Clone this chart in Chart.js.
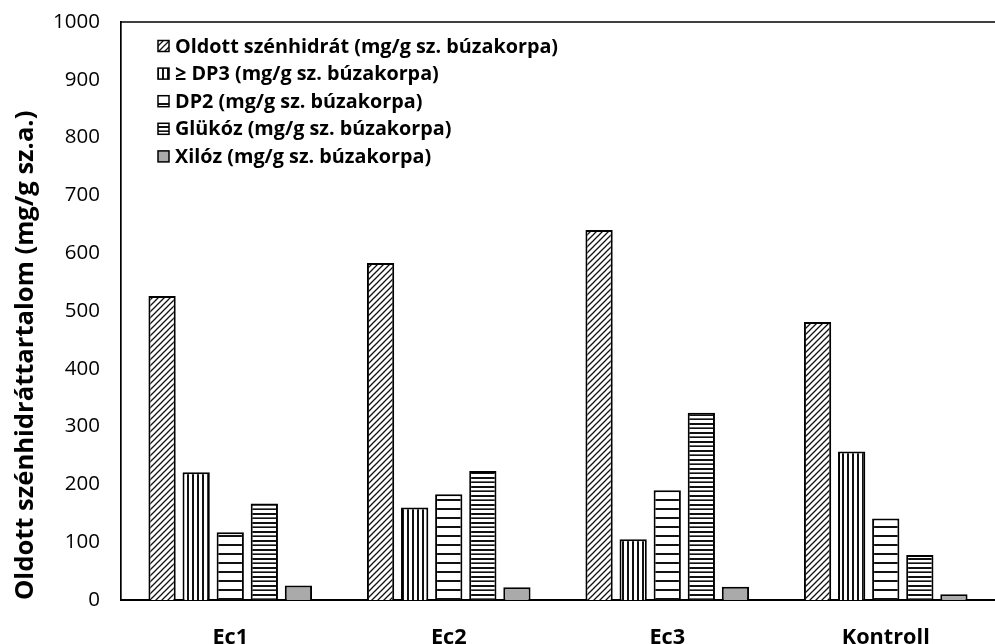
<!DOCTYPE html>
<html>
<head>
<meta charset="utf-8">
<script src="https://cdn.jsdelivr.net/npm/chart.js@4/dist/chart.umd.min.js"></script>
<style>
  html, body { margin: 0; padding: 0; background: #fff; }
  #wrap { width: 995px; height: 644px; }
</style>
</head>
<body>
<div id="wrap"><canvas id="chart"></canvas></div>
<script>
const categories = ['Ec1', 'Ec2', 'Ec3', 'Kontroll'];
const seriesNames = [
  'Oldott szénhidrát (mg/g sz. búzakorpa)',
  '≥ DP3 (mg/g sz. búzakorpa)',
  'DP2 (mg/g sz. búzakorpa)',
  'Glükóz (mg/g sz. búzakorpa)',
  'Xilóz (mg/g sz. búzakorpa)'
];
const oldott = [526, 583, 640, 481];
const dp3 = [221, 160, 105, 257];
const dp2 = [117, 183, 190, 141];
const glukoz = [167, 223, 324, 78];
const xiloz = [25, 22, 23, 10];
const yTicks = [0, 100, 200, 300, 400, 500, 600, 700, 800, 900, 1000];
const yTitle = 'Oldott szénhidráttartalom (mg/g sz.a.)';

const FONT = '"Open Sans", "DejaVu Sans", sans-serif';

// size a font so a text gets about the width it has in the picture
function fitSize(text, weight, width) {
  const m = document.createElement('canvas').getContext('2d');
  m.font = weight + ' 100px ' + FONT;
  return Math.round(1000 * width / m.measureText(text).width) / 10;
}
const legendSize = fitSize(seriesNames[0], 'bold', 383);
const tickSize = fitSize('1000', 'normal', 47);
const xLabelSize = fitSize('Kontroll', 'bold', 88);
const titleSize = fitSize(yTitle, 'bold', 490);

// hatch fills like the Excel pattern fills
function makePattern(w, h, draw) {
  const c = document.createElement('canvas');
  c.width = w;
  c.height = h;
  const g = c.getContext('2d');
  g.fillStyle = '#fff';
  g.fillRect(0, 0, w, h);
  draw(g);
  return g.createPattern(c, 'repeat');
}

const diagFill = makePattern(6, 6, (g) => {
  g.strokeStyle = '#111';
  g.lineWidth = 1.3;
  g.beginPath();
  g.moveTo(-1, 7); g.lineTo(7, -1);
  g.moveTo(-4, 4); g.lineTo(4, -4);
  g.moveTo(2, 10); g.lineTo(10, 2);
  g.stroke();
});
const vertFill = makePattern(5, 4, (g) => {
  g.fillStyle = '#111';
  g.fillRect(2, 0, 2, 4);
});
const wideHorizFill = makePattern(4, 9, (g) => {
  g.fillStyle = '#111';
  g.fillRect(0, 4, 4, 2);
});
const narrowHorizFill = makePattern(4, 9, (g) => {
  g.fillStyle = '#111';
  g.fillRect(0, 0, 4, 2);
  g.fillRect(0, 5, 4, 1);
  g.fillStyle = '#666';
  g.fillRect(0, 4, 4, 1);
});
const fills = [diagFill, vertFill, wideHorizFill, narrowHorizFill, '#aaaaaa'];
const values = [oldott, dp3, dp2, glukoz, xiloz];

const datasets = seriesNames.map((name, i) => ({
  label: name,
  data: values[i],
  backgroundColor: fills[i],
  borderColor: '#000',
  borderWidth: 2,
  borderSkipped: 'bottom',
  categoryPercentage: 0.78,
  barPercentage: 0.8
}));

// legend inside the plot, one item per row, plus the top frame line
const insideLegend = {
  id: 'insideLegend',
  afterDraw(chart) {
    const ctx = chart.ctx;
    const area = chart.chartArea;
    ctx.save();
    ctx.strokeStyle = '#000';
    ctx.lineWidth = 1.5;
    ctx.beginPath();
    ctx.moveTo(area.left, area.top);
    ctx.lineTo(area.right, area.top);
    ctx.stroke();

    const x = area.left + 37;
    ctx.font = 'bold ' + legendSize + 'px ' + FONT;
    ctx.textBaseline = 'middle';
    chart.data.datasets.forEach((ds, i) => {
      const y = 46 + i * 27.6;
      ctx.fillStyle = ds.backgroundColor;
      ctx.fillRect(x, y - 5.5, 11, 11);
      ctx.lineWidth = 1.5;
      ctx.strokeStyle = '#000';
      ctx.strokeRect(x, y - 5.5, 11, 11);
      ctx.fillStyle = '#000';
      ctx.fillText(ds.label, x + 17, y + 1);
    });
    ctx.restore();
  }
};

const ctx = document.getElementById('chart').getContext('2d');
const myChart = new Chart(ctx, {
  type: 'bar',
  data: { labels: categories, datasets: datasets },
  plugins: [insideLegend],
  options: {
    responsive: true,
    maintainAspectRatio: false,
    animation: false,
    layout: { padding: { top: 22, right: 0, left: 10, bottom: 0 } },
    plugins: {
      legend: { display: false },
      tooltip: { enabled: false }
    },
    scales: {
      x: {
        grid: { display: false },
        border: { display: true, color: '#000', width: 2 },
        ticks: {
          color: '#000',
          padding: 17,
          font: { family: FONT, size: xLabelSize, weight: 'bold' }
        },
        afterFit(scale) { scale.height = 44; }
      },
      y: {
        min: 0,
        max: 1000,
        afterBuildTicks(scale) { scale.ticks = yTicks.map((v) => ({ value: v })); },
        grid: { display: false, drawTicks: false },
        border: { display: true, color: '#000', width: 1.7 },
        ticks: {
          color: '#000',
          padding: 21,
          callback: (v) => String(v),
          font: { family: FONT, size: tickSize }
        },
        title: {
          display: true,
          text: yTitle,
          align: 'start',
          color: '#000',
          padding: { top: 0, bottom: 4 },
          font: { family: FONT, size: titleSize, weight: 'bold' }
        },
        afterFit(scale) {
          scale.width = 121 - 10;
          scale.paddingTop = 0;
          scale.paddingBottom = 0;
        }
      }
    }
  }
});
</script>
</body>
</html>
